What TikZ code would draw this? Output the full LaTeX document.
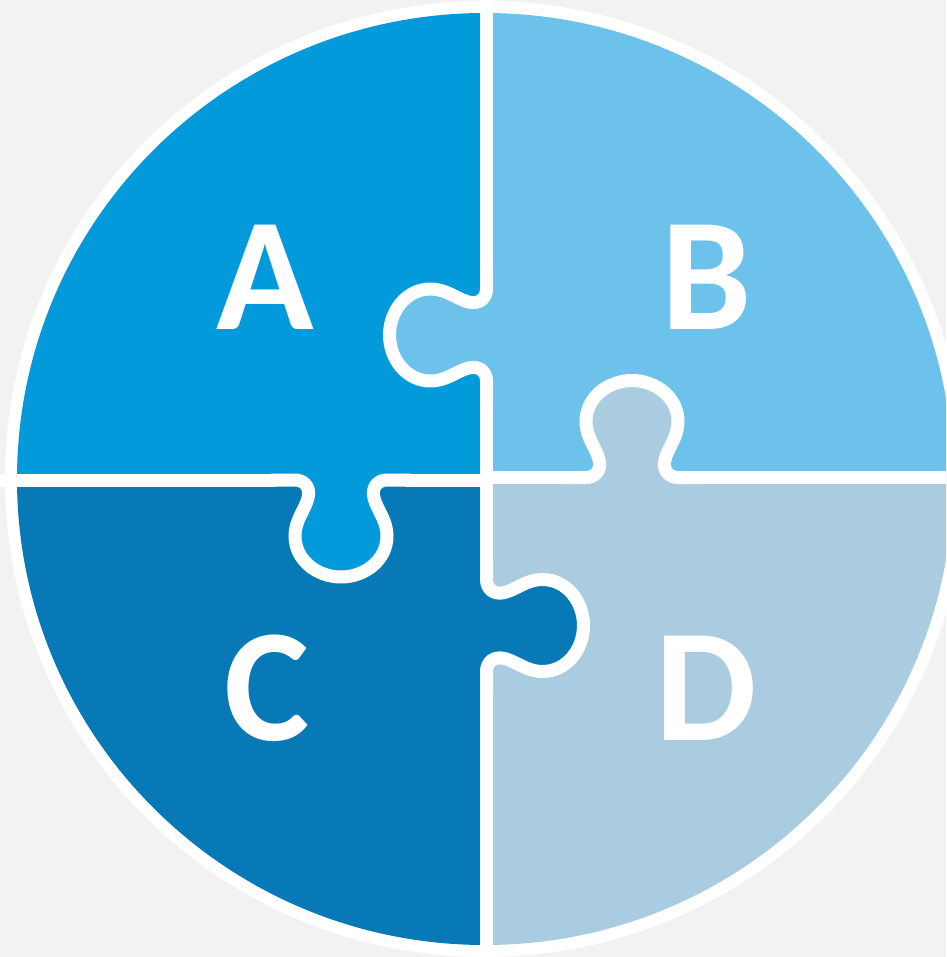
\documentclass[tikz,border=0pt]{standalone}
\usepackage{fontspec}
\setmainfont{Carlito}
\definecolor{bgc}{HTML}{F2F2F2}
\definecolor{pa}{HTML}{039ADC}
\definecolor{pb}{HTML}{6DC2EC}
\definecolor{pc}{HTML}{0879B7}
\definecolor{pd}{HTML}{AACCE0}
\def\knobcurve{(-46,0) .. controls (-38,0) and (-30,6) .. (-33,18) .. controls (-36,30) and (-46,40) .. (-46,56) .. controls (-46,80) and (-24,97) .. (0,97) .. controls (24,97) and (46,80) .. (46,56) .. controls (46,40) and (36,30) .. (33,18) .. controls (30,6) and (38,0) .. (46,0)}
\tikzset{
  sep/.style={draw=white,line width=13pt,line join=round},
  letter/.style={text=white,inner sep=0pt,font=\fontsize{161}{161}\selectfont\bfseries}
}
\begin{document}
\begin{tikzpicture}[x=1pt,y=-1pt]
\useasboundingbox (0,0) rectangle (946,957);
\clip (0,0) rectangle (946,957);
\fill[bgc] (0,0) rectangle (946,957);
\fill[white] (485,479) ellipse [x radius=480pt, y radius=478pt];
\begin{scope}
  \clip (485,479) ellipse [x radius=468pt, y radius=466pt];
  \fill[pa] (0,0) rectangle (486.5,480);
  \fill[pc] (0,480) rectangle (486.5,960);
  \fill[pb] (486.5,0) rectangle (960,477.5);
  \fill[pd] (486.5,477.5) rectangle (960,960);
\end{scope}
% knob fills (extended back into the owner's side to avoid seams)
\begin{scope}[shift={(486.5,335)},rotate=-90]
  \fill[pb] (-46,-12) -- \knobcurve -- (46,-12) -- cycle;
\end{scope}
\begin{scope}[shift={(341,480)}]
  \fill[pa] (-46,-12) -- \knobcurve -- (46,-12) -- cycle;
\end{scope}
\begin{scope}[shift={(632,477.5)},rotate=180]
  \fill[pd] (-46,-12) -- \knobcurve -- (46,-12) -- cycle;
\end{scope}
\begin{scope}[shift={(486.5,625.5)},rotate=90]
  \fill[pc] (-46,-12) -- \knobcurve -- (46,-12) -- cycle;
\end{scope}
% separators
\draw[sep] (486.5,-10) -- (486.5,270);
\begin{scope}[shift={(486.5,335)},rotate=-90]
  \draw[sep] (-70,0) -- \knobcurve -- (70,0);
\end{scope}
\draw[sep] (486.5,400) -- (486.5,481);
\draw[sep] (486.5,476) -- (486.5,560);
\begin{scope}[shift={(486.5,625.5)},rotate=90]
  \draw[sep] (-70,0) -- \knobcurve -- (70,0);
\end{scope}
\draw[sep] (486.5,690) -- (486.5,970);
\draw[sep] (-10,480) -- (276,480);
\begin{scope}[shift={(341,480)}]
  \draw[sep] (-70,0) -- \knobcurve -- (70,0);
\end{scope}
\draw[sep] (406,480) -- (486.5,480);
\draw[sep] (486.5,477.5) -- (567,477.5);
\begin{scope}[shift={(632,477.5)},rotate=180]
  \draw[sep] (-70,0) -- \knobcurve -- (70,0);
\end{scope}
\draw[sep] (697,477.5) -- (960,477.5);
% letters
\node[letter] (la) at (265,277) {A};
\node[letter] (lb) at (707,277) {B};
\node[letter] (lc) at (267,688) {C};
\node[letter] (ld) at (706.5,688.5) {D};
\end{tikzpicture}
\end{document}
